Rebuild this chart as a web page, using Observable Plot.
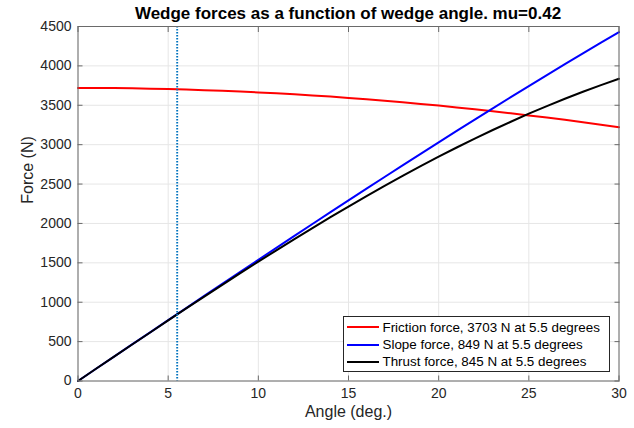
<!DOCTYPE html>
<html>
<head>
<meta charset="utf-8">
<script src="https://cdn.jsdelivr.net/npm/d3@7"></script>
<script src="https://cdn.jsdelivr.net/npm/@observablehq/plot@0.6"></script>
<style>
  html, body { margin: 0; padding: 0; background: #ffffff; }
  #wrap { position: relative; width: 634px; height: 428px; font-family: "Liberation Sans", Arial, sans-serif; }
  #title { height: 22px; line-height: 22px; position: relative; top: 3px; padding-left: 77.5px; width: 541px;
           text-align: center; font-weight: bold; font-size: 17px; color: #000; white-space: nowrap; }
  #chart svg { display: block; overflow: visible; }
  #legend { position: absolute; left: 343px; top: 316px; width: 267px; height: 56px; box-sizing: border-box;
            border: 1px solid #262626; background: #fff; padding-top: 1.5px; }
  .row { height: 17.4px; display: flex; align-items: center; font-size: 13.4px; color: #000; white-space: nowrap; }
  .swatch { width: 32px; height: 2px; margin-left: 2.7px; margin-right: 3.8px; }
</style>
</head>
<body>
<div id="wrap">
  <div id="title"></div>
  <div id="chart"></div>
  <div id="legend"></div>
</div>
<script>
const titleText = "Wedge forces as a function of wedge angle. mu=0.42";
const xLabel = "Angle (deg.)";
const yLabel = "Force (N)";

// Wedge angle (degrees)
const angles = [0,1,2,3,4,5,6,7,8,9,10,11,12,13,14,15,16,17,18,19,20,21,22,23,24,25,26,27,28,29,30];
// Friction force (N)
const friction = [3720,3719,3718,3715,3711,3706,3700,3692,3684,3674,3663,3652,3639,3625,3610,3593,3576,3557,3538,3517,3496,3473,3449,3424,3398,3371,3344,3315,3285,3254,3222];
// Slope force (N)
const slope = [0,155,309,464,618,772,926,1080,1233,1386,1538,1690,1842,1993,2143,2293,2442,2590,2737,2884,3030,3174,3318,3461,3603,3744,3883,4022,4159,4294,4429];
// Thrust force (N)
const thrust = [0,155,309,463,616,769,921,1071,1221,1369,1515,1659,1801,1941,2079,2214,2347,2477,2603,2727,2847,2964,3077,3186,3291,3393,3490,3583,3672,3756,3836];

const seriesNames = ["Friction force, 3703 N at 5.5 degrees", "Slope force, 849 N at 5.5 degrees", "Thrust force, 845 N at 5.5 degrees"];
const seriesKeys = ["friction", "slope", "thrust"];
const seriesColors = ["#ff0000", "#0000ff", "#000000"];

const xTicks = [0, 5, 10, 15, 20, 25, 30];
const yTicks = [0, 500, 1000, 1500, 2000, 2500, 3000, 3500, 4000, 4500];
const markerAngle = [5.5];

const rows = angles.map((a, i) => ({angle: a, friction: friction[i], slope: slope[i], thrust: thrust[i]}));

document.getElementById("title").textContent = titleText;

const axisColor = "#6a6a6a";
const textColor = "#262626";
const plain = d => String(d);

const chart = Plot.plot({
  width: 634,
  height: 406,
  marginLeft: 77.5,
  marginRight: 15.5,
  marginTop: 4,
  marginBottom: 47.5,
  x: {domain: [0, 30]},
  y: {domain: [0, 4500]},
  style: {fontFamily: "'Liberation Sans', Arial, sans-serif", fontSize: "14px", background: "#ffffff", color: textColor, overflow: "visible"},
  marks: [
    Plot.gridX(xTicks, {stroke: "#e6e6e6", strokeOpacity: 1}),
    Plot.gridY(yTicks, {stroke: "#e6e6e6", strokeOpacity: 1}),
    ...seriesKeys.map((k, i) => Plot.line(rows, {x: "angle", y: k, stroke: seriesColors[i], strokeWidth: 2})),
    Plot.ruleX(markerAngle, {stroke: "#0072BD", strokeWidth: 1.9, strokeDasharray: "1.5,1.5"}),
    Plot.frame({stroke: axisColor, strokeWidth: 1}),
    Plot.axisX(xTicks, {anchor: "bottom", tickSize: -5, tickPadding: 12.5, tickFormat: plain, label: null, stroke: axisColor, fill: textColor}),
    Plot.axisX(xTicks, {anchor: "top", tickSize: -5, tickFormat: () => "", label: null, stroke: axisColor}),
    Plot.axisY(yTicks, {anchor: "left", tickSize: -5, tickPadding: 11.5, tickFormat: plain, label: null, stroke: axisColor, fill: textColor}),
    Plot.axisY(yTicks, {anchor: "right", tickSize: -5, tickFormat: () => "", label: null, stroke: axisColor}),
    Plot.text([xLabel], {frameAnchor: "bottom", dy: 31, fontSize: 16, lineAnchor: "middle", fill: textColor}),
    Plot.text([yLabel], {frameAnchor: "left", dx: -50, rotate: -90, fontSize: 16, lineAnchor: "middle", fill: textColor})
  ]
});
document.getElementById("chart").appendChild(chart);

const legend = document.getElementById("legend");
seriesNames.forEach((name, i) => {
  const row = document.createElement("div");
  row.className = "row";
  const sw = document.createElement("div");
  sw.className = "swatch";
  sw.style.background = seriesColors[i];
  const label = document.createElement("span");
  label.textContent = name;
  row.appendChild(sw);
  row.appendChild(label);
  legend.appendChild(row);
});
</script>
</body>
</html>
